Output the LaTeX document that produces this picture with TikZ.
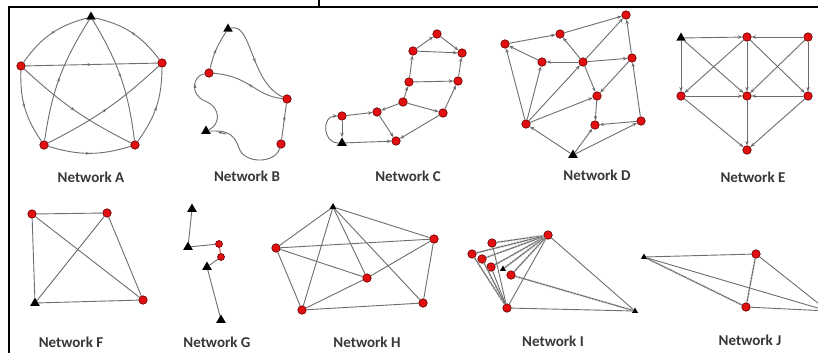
\documentclass[tikz,border=0pt]{standalone}
\usepackage{fontspec}
\setmainfont{Carlito}
\usetikzlibrary{shapes.geometric,arrows.meta,decorations.markings}
\definecolor{nodered}{RGB}{225,15,15}
\definecolor{nodeedge}{RGB}{100,0,0}
\definecolor{edgegray}{RGB}{110,110,110}
\definecolor{labgray}{RGB}{55,55,55}
\begin{document}
\begin{tikzpicture}[x=1pt,y=-1pt,
 rn/.style={circle,fill=nodered,draw=nodeedge,line width=0.6pt,minimum size=8.5pt,inner sep=0pt},
 tn/.style={regular polygon,regular polygon sides=3,fill=black,minimum size=11pt,inner sep=0pt},
 ed/.style={draw=edgegray,line width=0.9pt},
 arr/.style={ed,-{Stealth[length=4.5pt,width=3.5pt]}},
 mid/.style={ed,postaction={decorate,decoration={markings,mark=at position 0.5 with {\arrow{Stealth[length=4pt,width=3pt]}}}}},
 hd/.style={ed,preaction={draw=gray!45,line width=2.2pt,dash pattern=on 1.6pt off 1.6pt}},
 lab/.style={font=\bfseries\fontsize{15}{18}\selectfont,text=labgray}
]
\clip (0,0) rectangle (818,353);
\fill[white] (0,0) rectangle (818,353);
% frame
\draw[line width=1.4pt] (9,7) -- (818,7);
\draw[line width=1.4pt] (9,6.3) -- (9,353);
\draw[line width=1.4pt] (319,0) -- (319,7);

% ---------- Network A
\node[tn] (a0) at (91,17) {};
\node[rn] (a1) at (21,66) {};
\node[rn] (a2) at (44,145) {};
\node[rn] (a3) at (135,145) {};
\node[rn] (a4) at (162,63) {};
\draw[mid] (a0) to[bend right=20] (a1);
\draw[mid] (a1) to[bend right=18] (a2);
\draw[mid] (a2) to[bend right=17] (a3);
\draw[mid] (a3) to[bend right=18] (a4);
\draw[mid] (a4) to[bend right=20] (a0);
\draw[mid] (a1) -- (a4);
\draw[mid] (a2) to[bend left=12] (a0);
\draw[mid] (a0) to[bend left=12] (a3);
\draw[mid] (a1) to[bend right=8] (a3);
\draw[mid] (a2) to[bend right=8] (a4);
\node[lab] (la) at (91,177) {Network A};

% ---------- Network B
\node[tn] (b0) at (228,29) {};
\node[rn] (b1) at (209,73) {};
\node[rn] (b2) at (287,99) {};
\node[rn] (b3) at (281,144) {};
\node[tn] (b4) at (206,131) {};
\draw[mid] (b1) to[bend left=10] (b0);
\draw[mid] (b0) .. controls (252,22) and (250,82) .. (b2);
\draw[mid] (b2) .. controls (255,96) and (250,76) .. (b1);
\draw[ed] (b1) .. controls (192,76) and (190,95) .. (205,101) .. controls (222,108) and (220,125) .. (b4);
\draw[mid] (b2) -- (b3);
\draw[ed] (b3) .. controls (275,164) and (244,164) .. (239,148) .. controls (233,130) and (222,131) .. (b4);
\draw[ed,-{Stealth[length=4pt,width=3pt]}] (226,134) -- (218,132);
\draw[ed,-{Stealth[length=4pt,width=3pt]}] (195,88) -- (195,84);
\node[lab] (lb) at (247,176) {Network B};

% ---------- Network C
\node[rn] (c1) at (437,34) {};
\node[rn] (c2) at (413,51) {};
\node[rn] (c3) at (462,53) {};
\node[rn] (c4) at (409,82) {};
\node[rn] (c5) at (458,81) {};
\node[rn] (c6) at (403,102) {};
\node[rn] (c7) at (443,113) {};
\node[rn] (c8) at (377,112) {};
\node[rn] (c9) at (342,116) {};
\node[rn] (c10) at (396,141) {};
\node[tn] (c0) at (342,143) {};
\draw[arr] (c2) -- (c1);
\draw[arr] (c1) -- (c3);
\draw[arr] (c2) -- (c3);
\draw[arr] (c4) -- (c2);
\draw[arr] (c4) -- (c5);
\draw[arr] (c5) -- (c3);
\draw[arr] (c6) -- (c4);
\draw[arr] (c6) -- (c7);
\draw[arr] (c7) -- (c5);
\draw[arr] (c6) -- (c8);
\draw[arr] (c9) -- (c8);
\draw[arr] (c8) -- (c10);
\draw[arr] (c7) -- (c10);
\draw[arr] (c0) -- (c10);
\draw[arr] (c9) -- (c0);
\draw[arr] (c0) .. controls (322,143) and (322,116) .. (c9);
\node[lab] (lc) at (408,176) {Network C};

% ---------- Network D
\node[rn] (d1) at (626,15) {};
\node[rn] (d2) at (560,34) {};
\node[rn] (d3) at (505,44) {};
\node[rn] (d4) at (542,62) {};
\node[rn] (d5) at (583,62) {};
\node[rn] (d6) at (632,58) {};
\node[rn] (d7) at (597,96) {};
\node[rn] (d8) at (526,124) {};
\node[rn] (d9) at (595,125) {};
\node[rn] (d10) at (641,121) {};
\node[tn] (d0) at (573,155) {};
\draw[arr] (d3) -- (d2);
\draw[arr] (d2) -- (d1);
\draw[arr] (d4) -- (d3);
\draw[arr] (d5) -- (d4);
\draw[arr] (d5) -- (d2);
\draw[arr] (d5) -- (d1);
\draw[arr] (d5) -- (d6);
\draw[arr] (d6) -- (d1);
\draw[arr] (d5) -- (d7);
\draw[arr] (d6) -- (d7);
\draw[arr] (d8) -- (d3);
\draw[arr] (d8) -- (d4);
\draw[arr] (d8) -- (d5);
\draw[arr] (d8) -- (d7);
\draw[arr] (d7) -- (d9);
\draw[arr] (d10) -- (d9);
\draw[arr] (d10) -- (d6);
\draw[arr] (d0) -- (d8);
\draw[arr] (d0) -- (d9);
\draw[arr] (d0) -- (d10);
\node[lab] (ld) at (597,175) {Network D};

% ---------- Network E
\node[tn] (e0) at (681,38) {};
\node[rn] (e2) at (747,37) {};
\node[rn] (e3) at (808,37) {};
\node[rn] (e4) at (681,96) {};
\node[rn] (e5) at (747,96) {};
\node[rn] (e6) at (808,96) {};
\node[rn] (e7) at (747,150) {};
\draw[arr] (e0) -- (e2);
\draw[arr] (e3) -- (e2);
\draw[arr] (e0) -- (e4);
\draw[arr] (e0) -- (e5);
\draw[arr] (e2) -- (e4);
\draw[arr] (e2) -- (e5);
\draw[arr] (e2) -- (e6);
\draw[arr] (e3) -- (e5);
\draw[arr] (e3) -- (e6);
\draw[arr] (e4) -- (e5);
\draw[arr] (e6) -- (e5);
\draw[arr] (e4) -- (e7);
\draw[arr] (e5) -- (e7);
\draw[arr] (e6) -- (e7);
\node[lab] (le) at (753,177) {Network E};

% ---------- Network F
\node[rn] (f1) at (32,214) {};
\node[rn] (f2) at (107,213) {};
\node[rn] (f3) at (143,300) {};
\node[tn] (f0) at (35,303) {};
\draw[ed] (f1) -- (f2);
\draw[ed] (f1) -- (f0);
\draw[ed] (f1) -- (f3);
\draw[ed] (f2) -- (f0);
\draw[ed] (f2) -- (f3);
\draw[ed] (f0) -- (f3);
\node[lab] (lf) at (71,342) {Network F};

% ---------- Network G
\node[tn] (g1) at (192,209) {};
\node[tn] (g2) at (188,247) {};
\node[rn,minimum size=7pt] (g3) at (219,244) {};
\node[rn,minimum size=7pt] (g4) at (221,257) {};
\node[tn] (g5) at (207,267) {};
\node[tn] (g6) at (221,320) {};
\draw[ed] (g2) -- (g1);
\draw[ed] (g3) -- (g2);
\draw[ed,draw=nodered!70!gray] (g3) -- (g4);
\draw[ed] (g4) -- (g5);
\draw[ed] (g6) -- (g5);
\node[lab] (lg) at (217,342) {Network G};

% ---------- Network H
\node[tn,minimum size=8pt] (h0) at (333,207) {};
\node[rn] (h1) at (276,248) {};
\node[rn] (h2) at (434,239) {};
\node[rn] (h3) at (367,278) {};
\node[rn] (h4) at (423,303) {};
\node[rn] (h5) at (302,310) {};
\draw[ed] (h0) -- (h1);
\draw[ed] (h0) -- (h2);
\draw[ed] (h0) -- (h3);
\draw[ed] (h0) -- (h4);
\draw[ed] (h0) -- (h5);
\draw[ed] (h1) -- (h2);
\draw[ed] (h1) -- (h3);
\draw[ed] (h1) -- (h5);
\draw[ed] (h2) -- (h3);
\draw[ed] (h2) -- (h4);
\draw[ed] (h3) -- (h5);
\draw[ed] (h5) -- (h4);
\node[lab] (lh) at (367,342) {Network H};

% ---------- Network I
\node[rn] (i1) at (548,235) {};
\node[rn] (i2) at (492,243) {};
\node[rn] (i3) at (472,254) {};
\node[rn] (i4) at (482,259) {};
\node[rn] (i5) at (491,267) {};
\node[tn,minimum size=7pt] (i0) at (503,269) {};
\node[rn] (i6) at (511,275) {};
\node[rn] (i7) at (507,308) {};
\node[tn,minimum size=7pt] (i9) at (635,311) {};
\draw[hd] (i1) -- (i2);
\draw[hd] (i1) -- (i3);
\draw[hd] (i1) -- (i4);
\draw[hd] (i1) -- (i5);
\draw[hd] (i1) -- (i0);
\draw[hd] (i1) -- (i6);
\draw[ed] (i1) -- (i7);
\draw[ed] (i1) -- (i9);
\draw[ed] (i7) -- (i9);
\draw[hd] (i6) -- (i9);
\draw[ed] (i2) -- (i7);
\draw[hd] (i3) -- (i7);
\draw[hd] (i4) -- (i7);
\draw[ed] (i5) -- (i7);
\node[lab] (li) at (553,341) {Network I};

% ---------- Network J
\node[tn,minimum size=7pt] (j0) at (644,257) {};
\node[rn] (j1) at (756,254) {};
\node[rn] (j2) at (746,307) {};
\coordinate (jx) at (828,311);
\draw[ed] (j0) -- (j1);
\draw[hd] (j0) -- (j2);
\draw[ed] (j0) -- (jx);
\draw[hd] (j1) -- (j2);
\draw[ed] (j1) -- (jx);
\draw[ed] (j2) -- (jx);
\node[lab] (lj) at (750,340) {Network J};
\end{tikzpicture}
\end{document}
